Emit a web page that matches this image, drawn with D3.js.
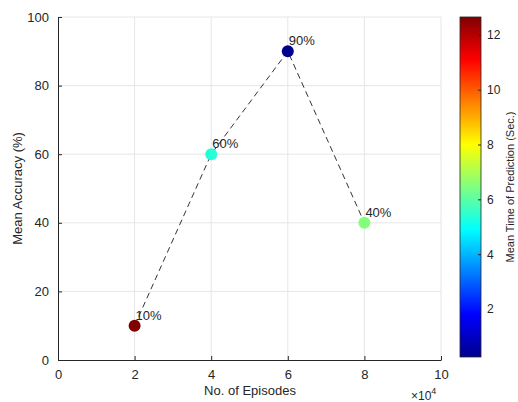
<!DOCTYPE html>
<html>
<head>
<meta charset="utf-8">
<script src="https://cdn.jsdelivr.net/npm/d3@7"></script>
<style>
body { margin: 0; background: #fff; }
text { font-family: "Liberation Sans", Arial, sans-serif; fill: #262626; }
</style>
</head>
<body>
<svg id="chart" width="518" height="402"></svg>
<script>
// chart data
var episodes = [20000, 40000, 60000, 80000];
var accuracy = [10, 60, 90, 40];
var predTime = [12.65, 5.35, 0.25, 6.5];
var xTicks = [0, 20000, 40000, 60000, 80000, 100000];
var yTicks = [0, 20, 40, 60, 80, 100];
var cTicks = [2, 4, 6, 8, 10, 12];

var svg = d3.select("#chart");
var plotLeft = 58, plotRight = 441, plotTop = 17, plotBottom = 360;

var x = d3.scaleLinear().domain([0, 100000]).range([plotLeft, plotRight]);
var y = d3.scaleLinear().domain([0, 100]).range([plotBottom, plotTop]);

// jet colormap
var jetStops = ["#00008f", "#0000ff", "#00ffff", "#ffff00", "#ff0000", "#800000"];
var jet = d3.scaleLinear()
    .domain([0, 0.125, 0.375, 0.625, 0.875, 1])
    .range(jetStops);
var cMin = d3.min(predTime), cMax = d3.max(predTime);
var color = function(v) { return jet((v - cMin) / (cMax - cMin)); };

// grid
var grid = svg.append("g");
grid.selectAll(".gx").data(xTicks.slice(1)).enter().append("line")
    .attr("x1", d => x(d)).attr("x2", d => x(d))
    .attr("y1", plotTop).attr("y2", plotBottom)
    .attr("stroke", "#e6e6e6");
grid.selectAll(".gy").data(yTicks.slice(1)).enter().append("line")
    .attr("x1", plotLeft).attr("x2", plotRight)
    .attr("y1", d => y(d)).attr("y2", d => y(d))
    .attr("stroke", "#e6e6e6");

// axes
var xAxis = d3.axisBottom(x).tickValues(xTicks).tickSizeInner(-4).tickSizeOuter(0)
    .tickPadding(10).tickFormat(d => d / 10000);
var yAxis = d3.axisLeft(y).tickValues(yTicks).tickSizeInner(-4).tickSizeOuter(0)
    .tickPadding(9);

var gx = svg.append("g").attr("transform", "translate(0," + plotBottom + ")").call(xAxis);
var gy = svg.append("g").attr("transform", "translate(" + plotLeft + ",0)").call(yAxis);
[gx, gy].forEach(function(g) {
    g.select(".domain").attr("stroke", "#262626");
    g.selectAll(".tick line").attr("stroke", "#262626");
    g.selectAll(".tick text").style("font-size", "13px").attr("fill", "#262626")
        .style("font-family", "Liberation Sans, Arial, sans-serif");
});

// axis labels
svg.append("text").attr("x", 250).attr("y", 395)
    .attr("text-anchor", "middle").style("font-size", "13px").text("No. of Episodes");
svg.append("text").attr("transform", "translate(22," + (plotTop + plotBottom) / 2 + ") rotate(-90)")
    .attr("text-anchor", "middle").style("font-size", "13px").text("Mean Accuracy (%)");
var mult = svg.append("text").attr("x", 411).attr("y", 400).style("font-size", "12px");
mult.append("tspan").text("\u00d710");
mult.append("tspan").attr("dy", -6).style("font-size", "9px").text("4");

// dashed line
var line = d3.line().x(d => x(d[0])).y(d => y(d[1]));
var pts = episodes.map((e, i) => [e, accuracy[i]]);
svg.append("path").datum(pts).attr("d", line)
    .attr("fill", "none").attr("stroke", "#333").attr("stroke-width", 1)
    .attr("stroke-dasharray", "6,4");

// points
svg.selectAll(".pt").data(pts).enter().append("circle")
    .attr("cx", d => x(d[0])).attr("cy", d => y(d[1])).attr("r", 6)
    .attr("fill", (d, i) => color(predTime[i]));

svg.selectAll(".lbl").data(pts).enter().append("text")
    .attr("x", d => x(d[0]) + 1).attr("y", d => y(d[1]) - 6)
    .style("font-size", "13px").attr("fill", "#111")
    .text(d => d[1] + "%");

// colorbar
var cbX = 460, cbW = 21, cbTop = 17, cbBottom = 357;
var cy = d3.scaleLinear().domain([cMin, cMax]).range([cbBottom, cbTop]);
var defs = svg.append("defs");
var grad = defs.append("linearGradient").attr("id", "jetgrad")
    .attr("x1", 0).attr("y1", 1).attr("x2", 0).attr("y2", 0);
d3.range(0, 1.0001, 0.025).forEach(function(t) {
    grad.append("stop").attr("offset", t).attr("stop-color", jet(t));
});
svg.append("rect").attr("x", cbX).attr("y", cbTop).attr("width", cbW)
    .attr("height", cbBottom - cbTop).attr("fill", "url(#jetgrad)")
    .attr("stroke", "#262626").attr("stroke-width", 0.8);
var cAxis = d3.axisRight(cy).tickValues(cTicks).tickSizeInner(-3).tickSizeOuter(0).tickPadding(6);
var gc = svg.append("g").attr("transform", "translate(" + (cbX + cbW) + ",0)").call(cAxis);
gc.select(".domain").remove();
gc.selectAll(".tick line").attr("stroke", "#262626");
gc.selectAll(".tick text").style("font-size", "12px").attr("fill", "#262626")
    .style("font-family", "Liberation Sans, Arial, sans-serif");
svg.append("text").attr("transform", "translate(514," + (cbTop + cbBottom) / 2 + ") rotate(-90)")
    .attr("text-anchor", "middle").style("font-size", "11px").text("Mean Time of Prediction (Sec.)");
</script>
</body>
</html>
